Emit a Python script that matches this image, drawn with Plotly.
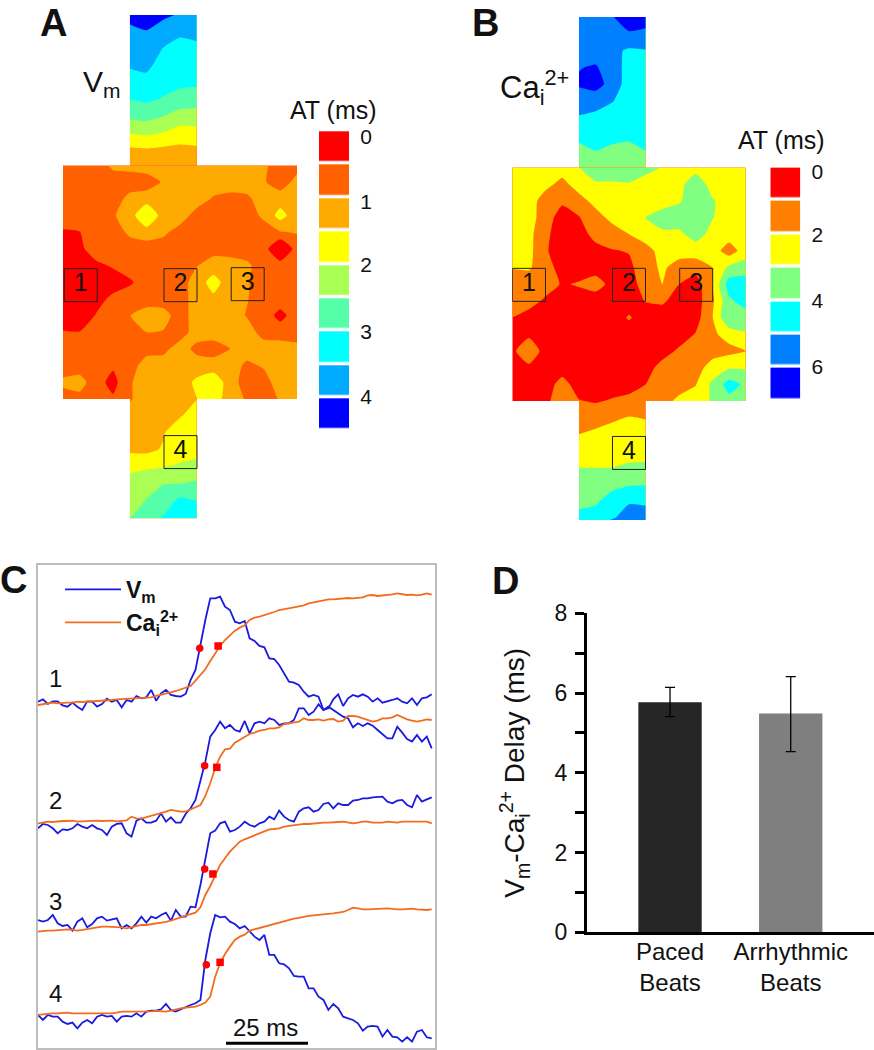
import numpy as np
import plotly.graph_objects as go

W, H = 874, 1050
FONT = "Liberation Sans, Arial, sans-serif"

# ---------- activation maps (ms), one rectangular block per part of the preparation ----------
stem_cols = [4, 5, 6, 7, 8]
body_cols = list(range(15))
body_rows = list(range(15))
top_rows = [-9.02, -8, -7, -6, -5, -4, -3, -2, -1, 0]
bottom_rows = [14, 15, 16, 17, 18, 19, 20, 21, 21.16]

vm_top = [
    [3.85, 3.92, 3.84, 3.7, 3.55],
    [3.67, 3.73, 3.52, 3.3, 3.35],
    [3.47, 3.54, 3.23, 3.15, 3.17],
    [3.3, 3.35, 3.07, 3.0, 3.0],
    [3.05, 3.12, 2.92, 2.85, 2.84],
    [2.77, 2.84, 2.72, 2.59, 2.52],
    [2.38, 2.44, 2.28, 2.04, 2.05],
    [1.8, 1.87, 1.76, 1.57, 1.6],
    [1.2, 1.24, 1.18, 1.14, 1.18],
    [0.9, 1, 1, 1, 1],
]
vm_body = [
    [.5, .5, .5, .85, .9, 1, 1, 1, 1, 1, 1, 1, .85, .5, .6],
    [.5, .5, .5, .5, .5, .5, .8, 1, 1, 1, 1, 1, .8, .5, .9],
    [.5, .5, .5, .5, .9, 1, 1, 1, 1, .7, .6, .65, 1, 1, 1],
    [.5, .5, .5, .7, 1, 1.8, 1, 1, .55, .5, .5, .5, .85, 1.45, .95],
    [.2, .24, .5, .5, .85, 1, .85, .55, .5, .5, .5, .5, .5, .72, .78],
    [0, .15, .5, .5, .5, .5, .5, .5, .5, .55, .5, .5, .5, -.4, .5],
    [0, 0, .15, .3, .5, .5, .5, .5, .72, 1, 1, .85, .5, .5, .5],
    [0, 0, 0, .05, .18, .5, .5, .5, 1, 1.45, 1, .8, .5, .5, .5],
    [0, 0, .1, .35, .5, .5, .5, .5, 1, 1.15, 1, .78, .5, .5, .5],
    [0, 0, .28, .5, .74, 1, .95, .5, 1, 1, 1, .72, .5, .1, .5],
    [.28, .26, .5, .5, .6, .75, .72, .5, 1, 1, 1, 1, .55, .5, .5],
    [.5, .5, .5, .5, .5, .55, .6, 1, .6, .5, .75, 1, 1, 1, .9],
    [.5, .5, .5, .32, .5, 1, 1, 1, 1, 1, 1, .65, .8, 1, 1],
    [.85, .95, .45, .08, .7, 1, 1, 1, 1.35, 1.6, 1, .5, .55, 1, 1],
    [.55, .6, .5, .32, .7, 1, 1, 1, 1.24, 1.5, 1, .7, .5, .8, 1],
]
vm_bottom = [
    [.7, 1, 1, 1, 1.24],
    [1, 1, 1, 1.2, 1.5],
    [1, 1, 1.2, 1.6, 1.6],
    [1.15, 1.1, 1.3, 1.5, 1.55],
    [1.55, 1.65, 1.7, 1.8, 1.9],
    [2.0, 2.05, 2.2, 2.2, 2.3],
    [2.1, 2.25, 2.55, 2.8, 2.7],
    [2.2, 2.5, 2.75, 3.1, 3.1],
    [2.3, 2.6, 2.8, 3.15, 3.2],
]
ca_top = [
    [5, 5, 5.45, 6, 5.9],
    [5, 5, 5.1, 5.4, 5.3],
    [5, 5, 4.75, 4.35, 4.45],
    [5.45, 5.6, 4.9, 4.2, 4.2],
    [5.65, 6, 5, 4.1, 4.1],
    [4.85, 4.75, 4.55, 4.05, 4.05],
    [4.45, 4.35, 4.1, 3.95, 4],
    [3.8, 3.85, 3.9, 3.75, 3.85],
    [3.2, 3.5, 3.25, 3.2, 3.5],
    [2.5, 3, 3, 3, 2.9],
]
ca_body = [
    [2, 2, 2, 2, 2.5, 3, 3, 3, 2.9, 2.45, 2, 2, 2, 2, 2],
    [2, 2, 1.8, 1.2, 2, 2.4, 2.4, 2.45, 2, 2, 2.1, 3.25, 2, 2, 2],
    [2, 2, 1, .7, 1.1, 1.85, 2, 2, 2, 2, 2.4, 3, 2.6, 2, 2],
    [2, 1.9, 1, 0, .45, 1.1, 1.8, 2, 2.5, 3, 3, 3, 2.55, 2, 2],
    [2, 1.8, .7, 0, 0, .9, 1, 1.5, 2, 2.3, 2.3, 2.9, 2.2, 2, 2],
    [2, 1.8, .6, 0, 0, .1, .45, .55, 1.1, 1.9, 2, 2, 2, 1, 2],
    [1.55, 1.6, 1, 0, 0, .1, 0, .3, 1, 1.7, 1, .9, 1.5, 2.7, 3],
    [1, 1, 1, .4, .6, .9, .2, 0, 1, 1.5, .5, 0, 1.5, 4, 4],
    [1, 1, .3, 0, 0, 0, 0, 0, .55, .65, .1, 0, 1.3, 3.3, 4],
    [.5, 0, 0, 0, 0, 0, 0, .6, 0, 0, 0, .1, 1.45, 3.5, 3],
    [0, .3, 0, 0, 0, 0, 0, 0, 0, 0, 0, .55, 1.3, 1.9, 2.4],
    [.3, 1.2, .1, 0, 0, 0, 0, 0, 0, .1, .65, 1, 1.1, 1.2, 1.5],
    [0, .3, 0, 0, 0, 0, 0, 0, .1, .85, 1, 1.1, 1.9, 2.4, 2.4],
    [0, 0, 0, .9, 0, 0, 0, 0, .5, 1, 1, 1.45, 2.7, 3.9, 3.3],
    [0, 0, .3, 1, .55, .4, .6, .85, 1, 1.1, 1.75, 2, 2.6, 3.2, 3],
]
ca_bottom = [
    [.55, .4, .6, .85, 1],
    [1, 1.2, 1.35, 1.55, 1.45],
    [1.5, 1.65, 1.85, 1.9, 1.85],
    [2, 2.1, 2.2, 2.25, 2.2],
    [2.5, 2.5, 2.5, 2.6, 2.65],
    [2.9, 3, 3.2, 3.4, 3.45],
    [3.3, 3.35, 3.95, 4.4, 4.3],
    [3.7, 3.9, 4.4, 4.9, 5],
    [3.75, 3.95, 4.6, 5, 5],
]
vm_levels = [0, .5, 1, 1.5, 2, 2.5, 3, 3.5, 4]
vm_colors = ["#ff0000", "#ff6000", "#ffaa00", "#ffff00", "#aaff55", "#55ffaa", "#00ffff", "#00aaff", "#0000ff"]
ca_levels = [0, 1, 2, 3, 4, 5, 6]
ca_colors = ["#ff0000", "#ff8000", "#ffff00", "#80ff80", "#00ffff", "#0080ff", "#0000ff"]

site_labels = ["1", "2", "3", "4"]
vm_site_col = [1.06, 7.03, 11.05, 7.03]
vm_site_row = [7.18, 7.18, 7.12, 17.19]
ca_site_col = [1.0, 7.0, 11.03, 7.0]
ca_site_row = [7.04, 7.04, 7.04, 17.12]

# ---------- optical traces (a.u., plotted downward; sampled every 1.5 ms) ----------
time_ms = [i * 1.5 for i in range(81)]
vm_trace_1 = [425, 418, 432, 424, 424, 436, 440, 428, 440, 450, 424, 425, 440, 432, 416, 425, 420, 442, 420, 425, 408, 415, 412, 390, 422, 400, 390, 405, 408, 410, 402, 360, 330, 250, 180, 115, 115, 110, 140, 150, 185, 190, 183, 235, 243, 258, 262, 295, 297, 315, 340, 365, 368, 375, 395, 410, 405, 410, 450, 445, 418, 403, 438, 415, 405, 410, 403, 410, 425, 415, 428, 425, 420, 415, 425, 430, 415, 435, 415, 412, 403]
ca_trace_1 = [435, 433, 430, 428, 430, 428, 428, 428, 425, 426, 425, 424, 425, 422, 422, 420, 418, 417, 416, 415, 416, 414, 413, 412, 408, 405, 400, 397, 393, 388, 385, 378, 362, 345, 328, 303, 280, 258, 240, 225, 212, 203, 196, 180, 173, 170, 166, 160, 156, 150, 148, 144, 142, 139, 136, 130, 127, 122, 120, 118, 118, 116, 114, 114, 115, 113, 112, 106, 105, 108, 107, 104, 103, 100, 102, 105, 104, 106, 104, 100, 104]
vm_trace_2 = [805, 792, 795, 805, 820, 808, 810, 805, 792, 800, 805, 795, 805, 810, 825, 800, 792, 790, 820, 830, 782, 775, 788, 788, 782, 760, 785, 772, 788, 788, 762, 745, 720, 660, 605, 530, 510, 485, 505, 495, 510, 515, 483, 520, 490, 485, 490, 475, 480, 495, 490, 490, 480, 445, 445, 465, 455, 433, 450, 440, 450, 460, 470, 475, 502, 490, 498, 490, 497, 510, 522, 535, 535, 500, 518, 537, 545, 525, 545, 530, 565]
ca_trace_2 = [790, 788, 785, 786, 784, 783, 783, 782, 785, 784, 783, 782, 782, 783, 782, 782, 784, 783, 781, 770, 775, 776, 772, 768, 765, 760, 755, 750, 753, 755, 755, 748, 742, 735, 708, 670, 625, 590, 568, 566, 548, 540, 532, 522, 518, 512, 510, 505, 505, 502, 492, 490, 487, 485, 475, 480, 480, 478, 482, 478, 477, 485, 482, 468, 468, 470, 475, 480, 485, 482, 475, 475, 472, 465, 472, 478, 482, 485, 482, 478, 480]
vm_trace_3 = [360, 365, 360, 345, 370, 378, 375, 392, 365, 355, 382, 372, 355, 350, 362, 358, 355, 385, 375, 385, 370, 350, 368, 350, 355, 345, 338, 362, 330, 350, 350, 320, 322, 255, 175, 100, 92, 70, 65, 95, 90, 80, 65, 75, 80, 70, 65, 50, 58, 32, 50, 60, 65, 35, 25, 22, 35, 30, 12, 8, 25, 10, 15, 15, 2, 0, -5, -5, -8, -10, -10, 5, 10, 2, 0, 15, 22, -15, 5, -2, -8]
ca_trace_3 = [395, 393, 392, 392, 390, 388, 388, 390, 392, 390, 387, 385, 382, 380, 380, 380, 380, 382, 385, 382, 378, 375, 375, 373, 372, 370, 366, 362, 356, 352, 347, 342, 338, 322, 285, 258, 225, 195, 175, 155, 140, 125, 118, 112, 106, 100, 95, 88, 87, 85, 80, 78, 74, 72, 72, 72, 70, 70, 68, 68, 68, 66, 65, 68, 70, 68, 65, 65, 68, 68, 68, 65, 66, 68, 65, 65, 66, 67, 66, 65, 70]
vm_trace_4 = [645, 660, 645, 650, 650, 665, 672, 668, 685, 668, 660, 670, 650, 645, 650, 648, 665, 650, 648, 650, 640, 650, 635, 632, 632, 628, 612, 630, 635, 628, 620, 615, 610, 600, 480, 400, 345, 352, 350, 365, 372, 385, 378, 395, 410, 420, 405, 465, 465, 490, 493, 505, 528, 530, 530, 565, 565, 590, 600, 630, 612, 625, 650, 655, 660, 670, 692, 680, 678, 680, 710, 690, 710, 712, 725, 712, 725, 695, 690, 712, 715]
ca_trace_4 = [645, 643, 642, 640, 640, 638, 638, 640, 640, 640, 640, 642, 642, 642, 640, 640, 638, 635, 635, 635, 636, 636, 635, 634, 633, 634, 635, 632, 628, 625, 623, 622, 620, 615, 608, 590, 530, 490, 462, 440, 420, 410, 404, 392, 388, 382, 378, 374, 370, 368, 362, 360, 356, 354, 350, 348, 346, 345, 344, 342, 340, 338, 336, 330, 323, 325, 328, 328, 328, 327, 326, 325, 327, 328, 328, 327, 326, 328, 330, 330, 328]
trace_shift = [0, 0, 720, 720]
vm_mark_t = [49.3, 50.8, 50.8, 51.3]
vm_mark_y = [265, 617, 207, 494]
ca_mark_t = [54.9, 54.5, 53.3, 55.5]
ca_mark_y = [258, 622, 222, 487]
scale_bar_t = [57.3, 82.3]
scale_bar_y = [1450, 1450]

# ---------- delay bars ----------
bar_names = ["Paced<br>Beats", "Arrhythmic<br>Beats"]
bar_values = [5.77, 5.49]
bar_err_up = [0.37, 0.92]
bar_err_down = [0.36, 0.96]
bar_colors = ["#262626", "#7f7f7f"]
delay_ticks = [0, 1, 2, 3, 4, 5, 6, 7, 8]
delay_labels = ["0", "", "2", "", "4", "", "6", "", "8"]


def px_x(a, b):
    return [a / W, b / W]


def px_y(top, bottom):
    return [1 - bottom / H, 1 - top / H]


def stepped(colors):
    n = len(colors)
    out = []
    for i, c in enumerate(colors):
        out += [[i / n, c], [(i + 1) / n, c]]
    return out


fig = go.Figure()


def add_map(xa, ya, top, body, bottom, levels, colors, site_col, site_row):
    step = levels[1] - levels[0]
    scale = stepped(colors)
    for x, y, z in ((stem_cols, top_rows, top), (body_cols, body_rows, body), (stem_cols, bottom_rows, bottom)):
        fig.add_trace(go.Contour(
            x=x, y=y, z=z, xaxis=xa, yaxis=ya, showscale=False, hoverinfo="skip",
            autocontour=False, colorscale=scale,
            zauto=False, zmin=levels[0] - step / 2, zmax=levels[-1] + step / 2,
            contours=dict(start=levels[0] + step / 2, end=levels[-1] - step / 2, size=step, coloring="fill"),
            line=dict(width=0, smoothing=0.5),
        ))
    fig.add_trace(go.Scatter(
        x=site_col, y=site_row, xaxis=xa, yaxis=ya, mode="markers+text", text=site_labels,
        textposition="middle center", textfont=dict(size=25, color="#111111", family=FONT),
        marker=dict(symbol="square-open", size=33, color="#222222", line=dict(width=1, color="#222222")),
        showlegend=False, hoverinfo="skip",
    ))


def add_swatches(xa, ya, levels, colors):
    step = levels[1] - levels[0]
    fig.add_trace(go.Heatmap(
        x=[0], y=levels, z=[[v] for v in levels], xaxis=xa, yaxis=ya, showscale=False,
        colorscale=stepped(colors), zmin=levels[0] - step / 2, zmax=levels[-1] + step / 2,
        ygap=3.4, hoverinfo="skip",
    ))


add_map("x", "y", vm_top, vm_body, vm_bottom, vm_levels, vm_colors, vm_site_col, vm_site_row)
add_swatches("x2", "y2", vm_levels, vm_colors)
add_map("x3", "y3", ca_top, ca_body, ca_bottom, ca_levels, ca_colors, ca_site_col, ca_site_row)
add_swatches("x4", "y4", ca_levels, ca_colors)

BLUE, ORANGE = "#1a1ae0", "#f26c1e"
vm_traces = [vm_trace_1, vm_trace_2, vm_trace_3, vm_trace_4]
ca_traces = [ca_trace_1, ca_trace_2, ca_trace_3, ca_trace_4]
for n in range(4):
    fig.add_trace(go.Scatter(
        x=time_ms, y=[v + trace_shift[n] for v in vm_traces[n]], xaxis="x5", yaxis="y5", mode="lines",
        line=dict(color=BLUE, width=1.8), name="<b>V<sub>m</sub></b>", showlegend=n == 0, hoverinfo="skip",
    ))
for n in range(4):
    fig.add_trace(go.Scatter(
        x=time_ms, y=[v + trace_shift[n] for v in ca_traces[n]], xaxis="x5", yaxis="y5", mode="lines",
        line=dict(color=ORANGE, width=1.8), name="<b>Ca<sub>i</sub><sup>2+</sup></b>", showlegend=n == 0, hoverinfo="skip",
    ))
fig.add_trace(go.Scatter(
    x=vm_mark_t, y=[v + s for v, s in zip(vm_mark_y, trace_shift)], xaxis="x5", yaxis="y5", mode="markers",
    marker=dict(symbol="circle", size=7.5, color="#ff0000"), showlegend=False, hoverinfo="skip",
))
fig.add_trace(go.Scatter(
    x=ca_mark_t, y=[v + s for v, s in zip(ca_mark_y, trace_shift)], xaxis="x5", yaxis="y5", mode="markers",
    marker=dict(symbol="square", size=7.5, color="#ff0000"), showlegend=False, hoverinfo="skip",
))
fig.add_trace(go.Scatter(
    x=scale_bar_t, y=scale_bar_y, xaxis="x5", yaxis="y5", mode="lines",
    line=dict(color="#000000", width=3), showlegend=False, hoverinfo="skip",
))

fig.add_trace(go.Bar(
    x=[0, 1], y=bar_values, xaxis="x6", yaxis="y6", width=0.525,
    marker=dict(color=bar_colors, line=dict(width=0)),
    error_y=dict(type="data", symmetric=False, array=bar_err_up, arrayminus=bar_err_down,
                 color="#000000", thickness=1.3, width=5),
    showlegend=False, hoverinfo="skip",
))

hidden = dict(visible=False, fixedrange=True, automargin=False)
layout = dict(
    width=W, height=H, margin=dict(l=0, r=0, t=0, b=0, pad=0), autosize=False,
    paper_bgcolor="white", plot_bgcolor="rgba(0,0,0,0)",
    font=dict(family=FONT, color="#111111"),
    xaxis=dict(hidden, domain=px_x(63, 297), range=[0, 14]),
    yaxis=dict(hidden, domain=px_y(15, 518.3), range=[21.16, -9.02]),
    xaxis3=dict(hidden, domain=px_x(512.3, 745.7), range=[0, 14]),
    yaxis3=dict(hidden, domain=px_y(17, 520), range=[21.14, -9.02]),
    xaxis2=dict(hidden, domain=px_x(319, 349), range=[-0.5, 0.5]),
    yaxis2=dict(domain=px_y(130.3, 430.7), range=[4.25, -0.25], side="right", anchor="x2", showgrid=False,
                zeroline=False, showline=False, ticks="outside", ticklen=6, tickcolor="rgba(0,0,0,0)",
                tickvals=[-0.15, 0.82, 1.76, 2.76, 3.74], ticktext=["0", "1", "2", "3", "4"], automargin=False,
                tickfont=dict(size=21, family=FONT, color="#111111")),
    xaxis4=dict(hidden, domain=px_x(770.3, 800.3), range=[-0.5, 0.5]),
    yaxis4=dict(domain=px_y(166.6, 400.4), range=[6.5, -0.5], side="right", anchor="x4", showgrid=False,
                zeroline=False, showline=False, ticks="outside", ticklen=6, tickcolor="rgba(0,0,0,0)",
                tickvals=[-0.36, 1.55, 3.5, 5.5], ticktext=["0", "2", "4", "6"], automargin=False,
                tickfont=dict(size=21, family=FONT, color="#111111")),
    xaxis5=dict(domain=px_x(38, 435), range=[0, 121], showticklabels=False, ticks="", showgrid=False,
                zeroline=False, showline=True, mirror=True, linecolor="#bdbdbd", linewidth=1.5, anchor="y5",
                automargin=False),
    yaxis5=dict(domain=px_y(565, 1048.3), range=[1465, 15], showticklabels=False, ticks="", showgrid=False,
                zeroline=False, showline=True, mirror=True, linecolor="#bdbdbd", linewidth=1.5, anchor="x5",
                automargin=False),
    xaxis6=dict(domain=px_x(587, 874), range=[-0.688, 1.69], tickvals=[0, 1], ticktext=bar_names, ticks="",
                showgrid=False, zeroline=False, showline=True, linecolor="#000000", linewidth=3, anchor="y6",
                automargin=False, ticklabelstandoff=-4, tickfont=dict(size=24, family=FONT, color="#111111")),
    yaxis6=dict(domain=px_y(613.3, 932.3), range=[0, 8], tickvals=delay_ticks, ticktext=delay_labels,
                ticks="outside", ticklen=9, tickwidth=2.5, tickcolor="#000000", showgrid=False, zeroline=False,
                showline=True, linecolor="#000000", linewidth=3, anchor="x6", automargin=False,
                ticklabelstandoff=3, tickfont=dict(size=23, family=FONT, color="#111111"),
                title=dict(text="V<sub>m</sub>-Ca<sub>i</sub><sup>2+</sup> Delay (ms)", standoff=22,
                           font=dict(size=28, family=FONT, color="#111111"))),
    legend=dict(x=60 / W, y=1 - 568 / H, xanchor="left", yanchor="top", bgcolor="rgba(0,0,0,0)",
                font=dict(size=23, family=FONT, color="#111111"), itemwidth=56, tracegroupgap=0,
                borderwidth=0),
    showlegend=True,
)


def label(text, x, y, size, anchor="center", vanchor="middle"):
    return dict(text=text, x=x / W, y=1 - y / H, xref="paper", yref="paper", showarrow=False, xanchor=anchor,
                yanchor=vanchor, font=dict(size=size, family=FONT, color="#111111"))


layout["annotations"] = [
    label("<b>A</b>", 53, 0, 38, vanchor="top"), label("<b>B</b>", 485, 0, 38, vanchor="top"),
    label("<b>C</b>", 13, 580, 38), label("<b>D</b>", 505, 581, 38),
    label("V<sub>m</sub>", 81, 84, 30, "left"),
    label("Ca<sub>i</sub><sup>2+</sup>", 498, 88, 31, "left"),
    label("AT (ms)", 333, 110, 25), label("AT (ms)", 781.5, 140, 25),
    label("1", 55, 678, 24), label("2", 55, 800, 24), label("3", 55, 901, 24), label("4", 55, 993, 24),
    label("25 ms", 265, 1027, 24),
]
fig.update_layout(**layout)
fig.write_html("out.html", config={"displayModeBar": False},
               post_script="document.body.style.margin='0';document.body.style.overflow='hidden';")
